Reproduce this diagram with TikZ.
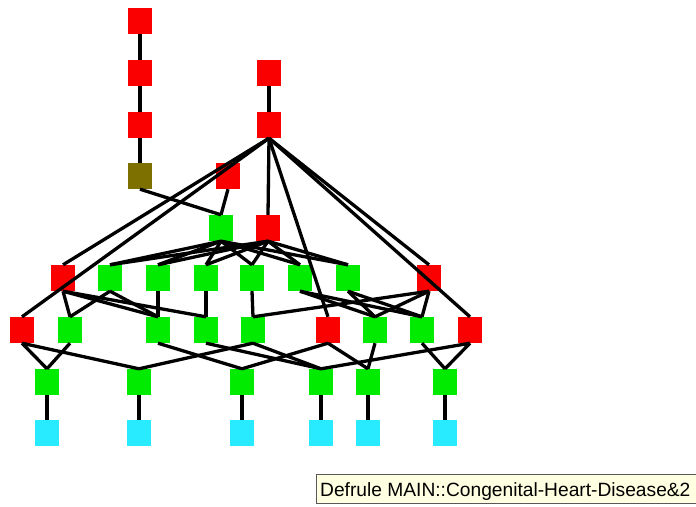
\documentclass[tikz,border=0pt]{standalone}
\usepackage{fontspec}
\setmainfont{Liberation Sans}
\usepackage{tikz}

\definecolor{rulered}{RGB}{250,0,0}
\definecolor{factgreen}{RGB}{0,235,0}
\definecolor{leafcyan}{RGB}{40,235,255}
\definecolor{oliveish}{RGB}{125,112,0}
\definecolor{tipyellow}{RGB}{255,255,225}

\begin{document}
\begin{tikzpicture}[x=1pt,y=-1pt]
        \tikzset{line/.style={line width=3.3pt}};
        \tikzset{box/.style={minimum width=24pt,minimum height=26pt,inner sep=0pt}};
        \tikzset{rnode/.style={box,fill=rulered}};
        \tikzset{gnode/.style={box,fill=factgreen}};
        \tikzset{cnode/.style={box,fill=leafcyan}};

        \useasboundingbox (0,0) rectangle (696,506);
        \clip (0,0) rectangle (696,506);

        % left chain and right chain
        \node[rnode] (p1) at (140,21) {};
        \node[rnode] (p2) at (140,73) {};
        \node[rnode] (p3) at (140,125) {};
        \node[box,fill=oliveish] (p4) at (140,176) {};
        \node[rnode] (q1) at (269,73) {};
        \node[rnode] (q2) at (269,125) {};
        \node[rnode] (m1) at (228,176) {};
        \node[gnode] (g1) at (221,228) {};
        \node[rnode] (m2) at (268,228) {};

        % row u
        \node[rnode] (u1) at (63,278) {};
        \foreach \n/\x in {2/110,3/158,4/206,5/252,6/300,7/348}
            \node[gnode] (u\n) at (\x,278) {};
        \node[rnode] (u8) at (429,278) {};

        % row v
        \node[rnode] (v1) at (22,330) {};
        \foreach \n/\x in {2/70,3/158,4/206,5/253}
            \node[gnode] (v\n) at (\x,330) {};
        \node[rnode] (v6) at (328,330) {};
        \node[gnode] (v7) at (375,330) {};
        \node[gnode] (v8) at (422,330) {};
        \node[rnode] (v9) at (470,330) {};

        % rows w and c
        \foreach \n/\x in {1/47,2/139,3/242,4/321,5/368,6/445} {
            \node[gnode] (w\n) at (\x,382) {};
            \node[cnode] (c\n) at (\x,433) {};
            \draw[line] (w\n.south) -- (c\n.north);
        }

        % edges
        \foreach \a/\b in {p1/p2,p2/p3,p3/p4,q1/q2,p4/g1,m1/g1,
                q2/u1,q2/v1,q2/m2,q2/v6,q2/u8,q2/v9}
            \draw[line] (\a.south) -- (\b.north);
        \foreach \b in {u2,u3,u4,u5,u6,u7} {
            \draw[line] (g1.south) -- (\b.north);
            \draw[line] (m2.south) -- (\b.north);
        }
        \foreach \a/\b in {u1/v2,u1/v3,u1/v4,u2/v2,u2/v3,u3/v3,u4/v4,u5/v5,
                u6/v7,u6/v8,u7/v7,u7/v8,u8/v5,u8/v7,u8/v8}
            \draw[line] (\a.south) -- (\b.north);
        \foreach \a/\b in {v1/w1,v1/w2,v2/w1,v3/w3,v4/w4,v5/w2,v5/w4,
                v6/w3,v6/w5,v7/w5,v8/w6,v9/w6,v9/w4}
            \draw[line] (\a.south) -- (\b.north);

        % tooltip
        \draw[fill=tipyellow,draw=black!65,line width=1pt] (316,474) rectangle (710,503);
        \node[anchor=base west,inner sep=0pt,font=\fontsize{19.2}{22}\selectfont] (tip) at (320,496)
            {Defrule MAIN::Congenital-Heart-Disease\&2};
\end{tikzpicture}
\end{document}
